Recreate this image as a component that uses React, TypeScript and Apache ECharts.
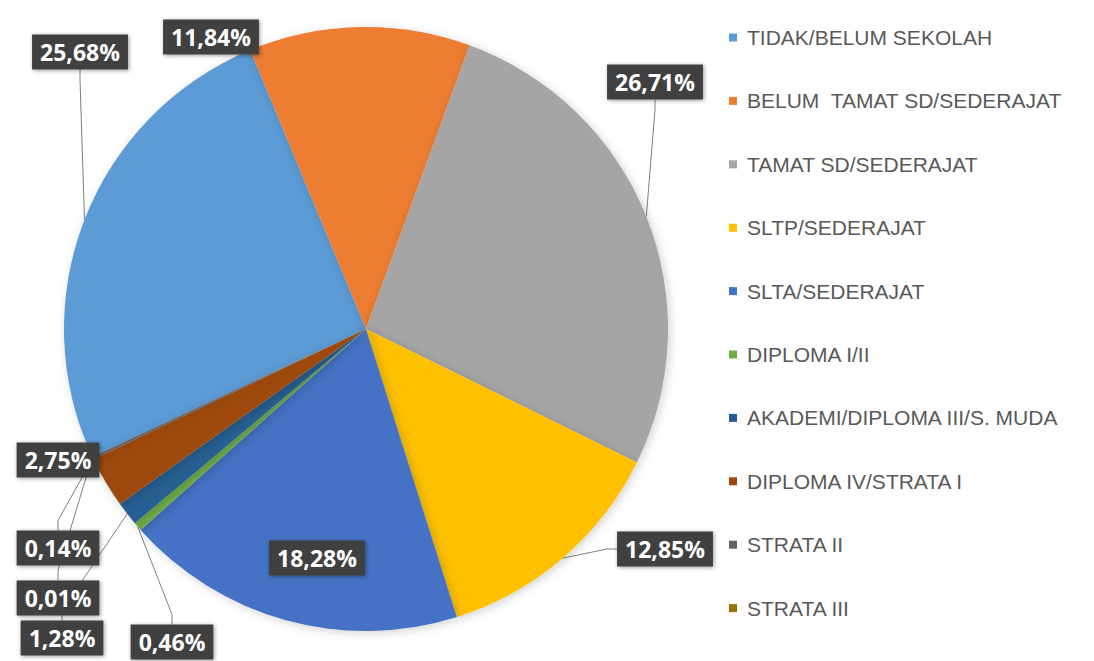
import React, { useEffect, useRef } from "react";
import * as echarts from "echarts";

const categories = [
  "TIDAK/BELUM SEKOLAH",
  "BELUM  TAMAT SD/SEDERAJAT",
  "TAMAT SD/SEDERAJAT",
  "SLTP/SEDERAJAT",
  "SLTA/SEDERAJAT",
  "DIPLOMA I/II",
  "AKADEMI/DIPLOMA III/S. MUDA",
  "DIPLOMA IV/STRATA I",
  "STRATA II",
  "STRATA III",
];
const values = [25.68, 11.84, 26.71, 12.85, 18.28, 0.46, 1.28, 2.75, 0.14, 0.01];
const colors = [
  "#5B9BD5",
  "#ED7D31",
  "#A5A5A5",
  "#FFC000",
  "#4472C4",
  "#70AD47",
  "#255E91",
  "#9E480E",
  "#636363",
  "#997300",
];
// label box centres (layout only)
const labelPos: [number, number][] = [
  [80, 52],
  [211, 37],
  [655, 82],
  [665, 549],
  [317, 558],
  [172, 642],
  [62, 638],
  [58, 460],
  [58, 548],
  [58, 598],
];
const noLine = [1, 4];

export default function App() {
  const ref = useRef<HTMLDivElement>(null);
  useEffect(() => {
    if (!ref.current) return;
    const chart = echarts.init(ref.current, null, { renderer: "svg" });
    chart.setOption({
      animation: false,
      backgroundColor: "#ffffff",
      color: colors,
      legend: {
        orient: "vertical",
        left: 724,
        top: 22,
        itemWidth: 8,
        itemHeight: 8,
        itemGap: 42.4,
        icon: "rect",
        data: categories,
        textStyle: {
          color: "#595959",
          fontSize: 21,
          fontFamily: "Liberation Sans",
          padding: [0, 0, 0, 5],
        },
      },
      series: [
        {
          type: "pie",
          center: [366, 329],
          radius: 302,
          startAngle: 205,
          clockwise: true,
          avoidLabelOverlap: false,
          itemStyle: {
            shadowBlur: 10,
            shadowColor: "rgba(0,0,0,0.18)",
            shadowOffsetX: 2,
            shadowOffsetY: 2,
          },
          label: {
            show: true,
            position: "outside",
            formatter: (p: any) => p.value.toFixed(2).replace(".", ",") + "%",
            color: "#ffffff",
            fontFamily: "Open Sans",
            fontWeight: "bold",
            fontSize: 23,
            backgroundColor: "#404040",
            padding: [7, 8, 5, 8],
            shadowBlur: 4,
            shadowColor: "rgba(0,0,0,0.4)",
            shadowOffsetX: 1,
            shadowOffsetY: 1,
          },
          labelLine: {
            show: true,
            length: 10,
            length2: 10,
            lineStyle: { color: "#7f7f7f", width: 1 },
          },
          labelLayout: (params: any) => {
            const pos = labelPos[params.dataIndex];
            return {
              x: pos[0],
              y: pos[1],
              align: "center",
              verticalAlign: "middle",
              hideOverlap: false,
            };
          },
          data: categories.map((name, i) => ({
            name,
            value: values[i],
            labelLine: { show: !noLine.includes(i) },
          })),
        },
      ],
    });
    return () => chart.dispose();
  }, []);
  return (
    <div
      ref={ref}
      style={{ position: "fixed", left: 0, top: 0, width: 1094, height: 661 }}
    />
  );
}
